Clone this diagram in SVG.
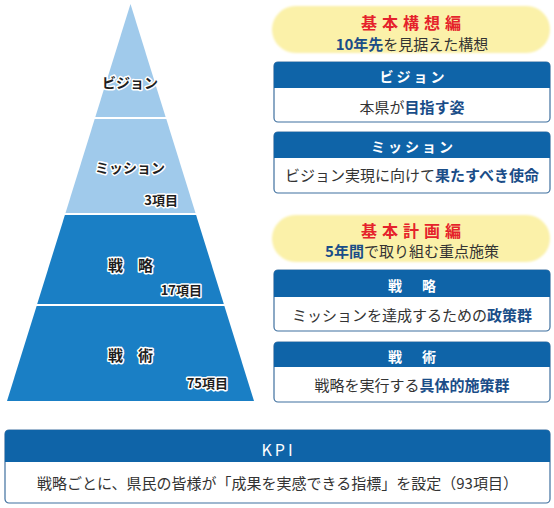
<svg xmlns="http://www.w3.org/2000/svg" width="554" height="508" viewBox="0 0 554 508">
<defs>
<style>
text{font-family:"Noto Sans CJK JP","Noto Sans",sans-serif;}
.lbl{font-size:14px;font-weight:700;fill:#1e1e1e;stroke:#fff;stroke-width:3px;paint-order:stroke;stroke-linejoin:round;text-anchor:middle;}
.cnt{font-size:13px;font-weight:700;fill:#1e1e1e;stroke:#fff;stroke-width:3px;paint-order:stroke;stroke-linejoin:round;text-anchor:end;}
.light{fill:#a0caeb;}
.dark{fill:#1a7fc5;}
.pill{fill:#fbf1a9;}
.ttl{font-size:16px;font-weight:700;fill:#e5222b;text-anchor:middle;letter-spacing:5px;}
.sub{font-size:15px;fill:#333;text-anchor:middle;}
.em{font-weight:700;fill:#1a4d88;}
.box{fill:#fff;stroke:#3f709f;stroke-width:1.2;}
.hdr{fill:#0f64a8;}
.htx{font-size:14px;font-weight:700;fill:#fff;text-anchor:middle;letter-spacing:3px;}
.btx{font-size:15px;fill:#333;text-anchor:middle;}
</style>
<filter id="soft" x="-5%" y="-20%" width="110%" height="140%"><feGaussianBlur stdDeviation="1.2"/></filter>
</defs>
<rect width="554" height="508" fill="#fff"/>

<g id="pyramid">
<g id="layer-vision">
<polygon class="light" points="130.5,4 165.6,117 95.3,117"/>
<text class="lbl" x="130" y="88">ビジョン</text>
</g>
<g id="layer-mission">
<polygon class="light" points="94.7,119 166.3,119 195.5,213 65.5,213"/>
<text class="lbl" x="130" y="173">ミッション</text>
<text class="cnt" x="178" y="205">3項目</text>
</g>
<g id="layer-strategy">
<polygon class="dark" points="64.9,215 196.1,215 223.8,304 37.2,304"/>
<text class="lbl" x="130.5" y="270.5" style="font-size:15px">戦　略</text>
<text class="cnt" x="202" y="295">17項目</text>
</g>
<g id="layer-tactics">
<polygon class="dark" points="36.6,306 224.4,306 254,401 7,401"/>
<text class="lbl" x="130.5" y="360.5" style="font-size:15px">戦　術</text>
<text class="cnt" x="228" y="388">75項目</text>
</g>
</g>

<g id="pill-kihon-koso">
<rect class="pill" x="272" y="6" width="278" height="47" rx="23.5" filter="url(#soft)"/>
<text class="ttl" x="413.5" y="29">基本構想編</text>
<text class="sub" x="412" y="49.5"><tspan class="em">10年先</tspan>を見据えた構想</text>
</g>

<g id="box-vision">
<rect class="box" x="274" y="62" width="276" height="60" rx="4"/>
<path class="hdr" d="M274,88 V66 a4,4 0 0 1 4,-4 H546 a4,4 0 0 1 4,4 V88 Z"/>
<text class="htx" x="413.5" y="82">ビジョン</text>
<text class="btx" x="412" y="112.5">本県が<tspan class="em">目指す姿</tspan></text>
</g>

<g id="box-mission">
<rect class="box" x="274" y="132" width="276" height="61" rx="4"/>
<path class="hdr" d="M274,158 V136 a4,4 0 0 1 4,-4 H546 a4,4 0 0 1 4,4 V158 Z"/>
<text class="htx" x="413.5" y="152">ミッション</text>
<text class="btx" x="412" y="180.5">ビジョン実現に向けて<tspan class="em">果たすべき使命</tspan></text>
</g>

<g id="pill-kihon-keikaku">
<rect class="pill" x="272" y="215" width="278" height="47" rx="23.5" filter="url(#soft)"/>
<text class="ttl" x="413.5" y="236.5">基本計画編</text>
<text class="sub" x="412" y="256.5"><tspan class="em">5年間</tspan>で取り組む重点施策</text>
</g>

<g id="box-strategy">
<rect class="box" x="274" y="270" width="276" height="61" rx="4"/>
<path class="hdr" d="M274,297 V274 a4,4 0 0 1 4,-4 H546 a4,4 0 0 1 4,4 V297 Z"/>
<text class="htx" x="413.5" y="291">戦　略</text>
<text class="btx" x="412" y="320.5">ミッションを達成するための<tspan class="em">政策群</tspan></text>
</g>

<g id="box-tactics">
<rect class="box" x="274" y="342" width="276" height="60" rx="4"/>
<path class="hdr" d="M274,367 V346 a4,4 0 0 1 4,-4 H546 a4,4 0 0 1 4,4 V367 Z"/>
<text class="htx" x="413.5" y="362">戦　術</text>
<text class="btx" x="412" y="390.5">戦略を実行する<tspan class="em">具体的施策群</tspan></text>
</g>

<g id="box-kpi">
<rect class="box" x="5" y="430" width="545" height="73" rx="4"/>
<path class="hdr" d="M5,462 V434 a4,4 0 0 1 4,-4 H546 a4,4 0 0 1 4,4 V462 Z"/>
<text x="278.5" y="455.5" style="font-size:16px;fill:#fff;text-anchor:middle;letter-spacing:3px">KPI</text>
<text class="btx" x="277.5" y="488.5">戦略ごとに、県民の皆様が「成果を実感できる指標」を設定（93項目）</text>
</g>

<g id="connectors"></g>
</svg>
